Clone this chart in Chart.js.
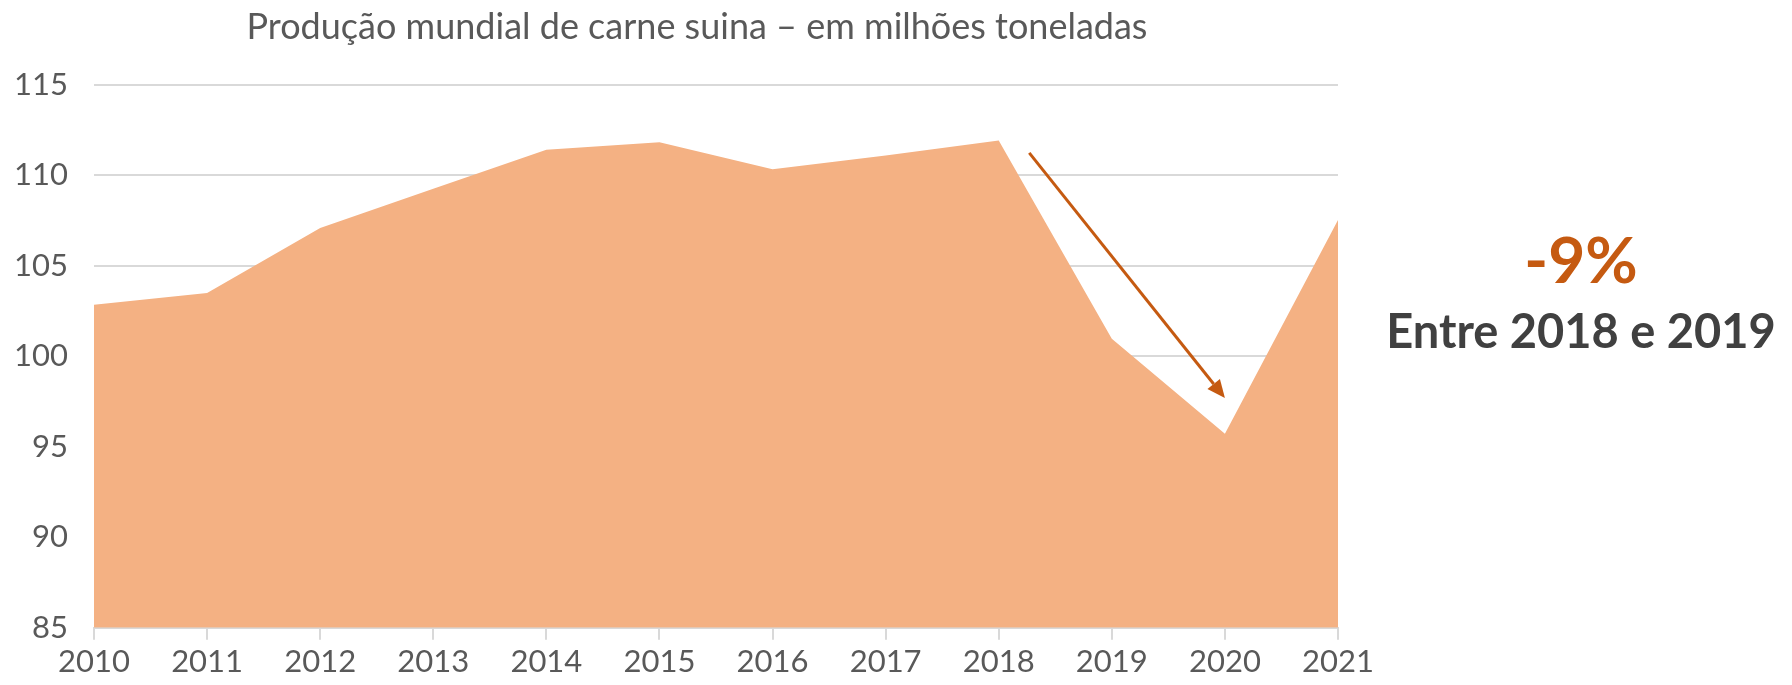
<!DOCTYPE html>
<html>
<head>
<meta charset="utf-8">
<script src="https://cdn.jsdelivr.net/npm/chart.js@4.4.0/dist/chart.umd.min.js"></script>
<style>
  body { margin: 0; background: #fff; }
  #wrap { position: relative; width: 1792px; height: 685px; }
  #chart-box { position: absolute; left: 0; top: 0; width: 1394px; height: 685px; }
  #title { position: absolute; left: 197px; width: 1000px; top: 3px; text-align: center; font-family: Lato, sans-serif; font-size: 36px; color: #595959; white-space: nowrap; }
  .note { position: absolute; left: 1381px; width: 400px; text-align: center; font-family: Lato, sans-serif; font-weight: bold; white-space: nowrap; }
  #pct { top: 220px; font-size: 64px; color: #C55A11; }
  #period { top: 302px; font-size: 47px; color: #404040; }
</style>
</head>
<body>
<div id="wrap">
  <div id="chart-box"><canvas id="area-chart"></canvas></div>
  <div id="title">Produção mundial de carne suina – em milhões toneladas</div>
  <div class="note" id="pct">-9%</div>
  <div class="note" id="period">Entre 2018 e 2019</div>
</div>
<script>
const years = ['2010', '2011', '2012', '2013', '2014', '2015', '2016', '2017', '2018', '2019', '2020', '2021'];
const production = [102.85, 103.5, 107.1, 109.26, 111.42, 111.84, 110.35, 111.1, 111.93, 100.98, 95.72, 107.54];
const yTicks = [85, 90, 95, 100, 105, 110, 115];
// arrow from just after 2018 down to 2020 (year, value)
const arrowFrom = [2018.27, 111.25];
const arrowTo = [2020.0, 97.7];

const textGrey = '#595959';
const gridGrey = '#d9d9d9';
const accent = '#C55A11';

const arrowPlugin = {
  id: 'dropArrow',
  afterDatasetsDraw(chart) {
    const { ctx, scales: { x, y } } = chart;
    const first = Number(years[0]);
    const x1 = x.getPixelForValue(arrowFrom[0] - first);
    const y1 = y.getPixelForValue(arrowFrom[1]);
    const x2 = x.getPixelForValue(arrowTo[0] - first);
    const y2 = y.getPixelForValue(arrowTo[1]);
    const ang = Math.atan2(y2 - y1, x2 - x1);
    const headLen = 18;
    const headHalf = 8;
    const bx = x2 - Math.cos(ang) * headLen;
    const by = y2 - Math.sin(ang) * headLen;
    ctx.save();
    ctx.strokeStyle = accent;
    ctx.fillStyle = accent;
    ctx.lineWidth = 3;
    ctx.beginPath();
    ctx.moveTo(x1, y1);
    ctx.lineTo(bx, by);
    ctx.stroke();
    ctx.beginPath();
    ctx.moveTo(x2, y2);
    ctx.lineTo(bx + Math.sin(ang) * headHalf, by - Math.cos(ang) * headHalf);
    ctx.lineTo(bx - Math.sin(ang) * headHalf, by + Math.cos(ang) * headHalf);
    ctx.closePath();
    ctx.fill();
    ctx.restore();
  },
};

const chart = new Chart(document.getElementById('area-chart'), {
  type: 'line',
  data: {
    labels: years,
    datasets: [
      {
        label: 'Produção',
        data: production,
        fill: 'start',
        backgroundColor: '#F4B183',
        borderWidth: 0,
        pointRadius: 0,
        tension: 0,
      },
    ],
  },
  options: {
    responsive: true,
    maintainAspectRatio: false,
    animation: false,
    layout: { padding: { top: 85, left: 12, right: 56, bottom: 0 } },
    plugins: {
      legend: { display: false },
      tooltip: { enabled: false },
    },
    scales: {
      x: {
        offset: false,
        grid: { drawOnChartArea: false, drawTicks: true, tickLength: 12, color: gridGrey, lineWidth: 2 },
        border: { display: true, color: gridGrey, width: 2 },
        ticks: { color: textGrey, font: { family: 'Lato', size: 31 }, padding: 4, maxRotation: 0, autoSkip: false },
      },
      y: {
        min: yTicks[0],
        max: yTicks[yTicks.length - 1],
        afterBuildTicks: (axis) => { axis.ticks = yTicks.map((v) => ({ value: v })); },
        afterFit: (axis) => { axis.width = 82; },
        grid: { color: gridGrey, lineWidth: 2, drawTicks: false },
        border: { display: false },
        ticks: { color: textGrey, font: { family: 'Lato', size: 31 }, padding: 26 },
      },
    },
  },
  plugins: [arrowPlugin],
});
</script>
</body>
</html>
